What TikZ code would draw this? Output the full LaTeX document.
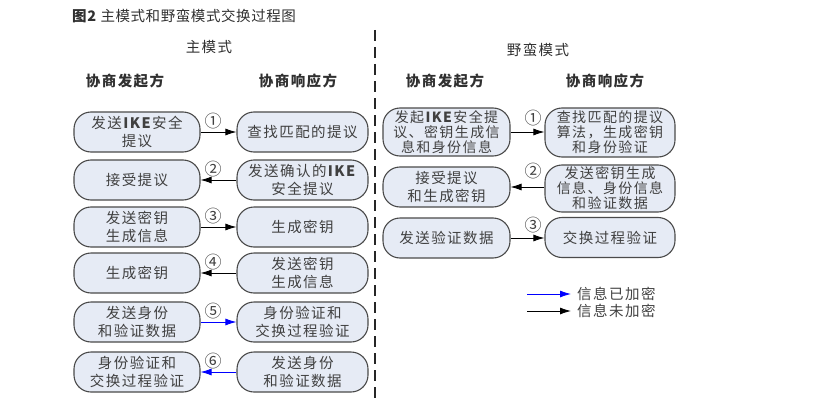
\documentclass[tikz,border=0pt]{standalone}
\usepackage{fontspec}
\setmainfont{Noto Sans CJK SC}
\newfontfamily\boxfont[LetterSpace=10]{Noto Sans CJK SC}
\newfontfamily\titlefont[LetterSpace=4]{Noto Sans CJK SC}
\usetikzlibrary{arrows.meta}
\definecolor{boxfill}{HTML}{E6EBF5}
\definecolor{boxline}{HTML}{4A4A4A}
\definecolor{txt}{HTML}{404040}
\definecolor{hdr}{HTML}{303030}
\definecolor{arrblue}{HTML}{0000FF}
\tikzset{
  stepbox/.style={draw=boxline, line width=1.1pt, fill=boxfill, rounded corners=17pt,
    minimum height=40pt, align=center, inner sep=0pt, text=txt,
    font=\boxfont\fontsize{14.5}{18}\selectfont},
  tallbox/.style={stepbox, font=\boxfont\fontsize{14}{15}\selectfont},
  lbox/.style={stepbox, minimum width=126pt},
  rbox/.style={stepbox, minimum width=131pt},
  num/.style={font=\fontsize{17}{17}\selectfont, text=txt, inner sep=0pt},
  hdrtext/.style={font=\boxfont\bfseries\fontsize{14.5}{16}\selectfont, text=hdr},
  modetext/.style={font=\boxfont\fontsize{14.5}{16}\selectfont, text=hdr},
  arr/.style={-{Latex[length=11pt,width=7pt]}, line width=0.8pt, draw=black},
  blu/.style={arr, draw=arrblue, -{Latex[length=11pt,width=7pt,fill=arrblue]}},
  sep/.style={line width=2pt, dash pattern=on 11pt off 6pt, draw=black!85}
}
\begin{document}
\begin{tikzpicture}[x=1pt,y=-1pt]
\useasboundingbox (0,0) rectangle (832,404);

% title
\node[anchor=west, inner sep=0pt, text=hdr, font=\titlefont\fontsize{14.5}{15}\selectfont] (title) at (72,16) {\textbf{图2} 主模式和野蛮模式交换过程图};

% separator
\coordinate (sepA) at (375,30);
\coordinate (sepB) at (375,398);
\draw[sep] (sepA) -- (sepB);

% headers
\node[modetext] (mm) at (209,47) {主模式};
\node[modetext] (am) at (538,50) {野蛮模式};
\node[hdrtext] (mh1) at (125,81) {协商发起方};
\node[hdrtext] (mh2) at (298,81) {协商响应方};
\node[hdrtext] (ah1) at (445,81) {协商发起方};
\node[hdrtext] (ah2) at (605,81) {协商响应方};

% main mode
\node[lbox] (L1) at (137,132) {发送\textbf{IKE}安全\\提议};
\node[rbox] (R1) at (302.5,132) {查找匹配的提议};
\node[lbox] (L2) at (137,180) {接受提议};
\node[rbox] (R2) at (302.5,180) {发送确认的\textbf{IKE}\\安全提议};
\node[lbox] (L3) at (137,227) {发送密钥\\生成信息};
\node[rbox] (R3) at (302.5,227) {生成密钥};
\node[lbox] (L4) at (137,273) {生成密钥};
\node[rbox] (R4) at (302.5,273) {发送密钥\\生成信息};
\node[lbox] (L5) at (137,322) {发送身份\\和验证数据};
\node[rbox] (R5) at (302.5,322) {身份验证和\\交换过程验证};
\node[lbox] (L6) at (137,372) {身份验证和\\交换过程验证};
\node[rbox] (R6) at (302.5,372) {发送身份\\和验证数据};

\draw[arr] (L1) -- (R1);
\draw[arr] (R2) -- (L2);
\draw[arr] (L3) -- (R3);
\draw[arr] (R4) -- (L4);
\draw[blu] (L5) -- (R5);
\draw[blu] (R6) -- (L6);

\node[num] (n1) at (213,121) {①};
\node[num] (n2) at (213,169) {②};
\node[num] (n3) at (213,216) {③};
\node[num] (n4) at (213,262) {④};
\node[num] (n5) at (213,311) {⑤};
\node[num] (n6) at (213,361) {⑥};

% aggressive mode
\node[lbox, tallbox, minimum width=127pt, minimum height=48pt] (AL1) at (446.5,132) {发起\textbf{IKE}安全提\\议、密钥生成信\\息和身份信息};
\node[rbox, tallbox, minimum width=130pt, minimum height=49pt] (AR1) at (610,132.5) {查找匹配的提议\\算法，生成密钥\\和身份验证};
\node[lbox, minimum width=127pt] (AL2) at (446.5,187) {接受提议\\和生成密钥};
\node[rbox, tallbox, minimum width=130pt, minimum height=47pt] (AR2) at (610,188.5) {发送密钥生成\\信息、身份信息\\和验证数据};
\node[lbox, minimum width=127pt] (AL3) at (446.5,238) {发送验证数据};
\node[rbox, minimum width=130pt] (AR3) at (610,237.5) {交换过程验证};

\draw[arr] (AL1.east) -- (AL1.east -| AR1.west);
\draw[arr] (AR2.west |- AL2.east) -- (AL2.east);
\draw[arr] (AL3.east) -- (AL3.east -| AR3.west);

\node[num] (an1) at (533,118) {①};
\node[num] (an2) at (533,171) {②};
\node[num] (an3) at (533,225) {③};

% legend
\coordinate (lgA1) at (527,294);
\coordinate (lgB1) at (571,294);
\coordinate (lgA2) at (527,311);
\coordinate (lgB2) at (571,311);
\draw[blu] (lgA1) -- (lgB1);
\draw[arr] (lgA2) -- (lgB2);
\node[anchor=west, inner sep=0pt, text=txt, font=\boxfont\fontsize{14.5}{16}\selectfont] (lt1) at (577,294) {信息已加密};
\node[anchor=west, inner sep=0pt, text=txt, font=\boxfont\fontsize{14.5}{16}\selectfont] (lt2) at (577,311) {信息未加密};
\end{tikzpicture}
\end{document}
